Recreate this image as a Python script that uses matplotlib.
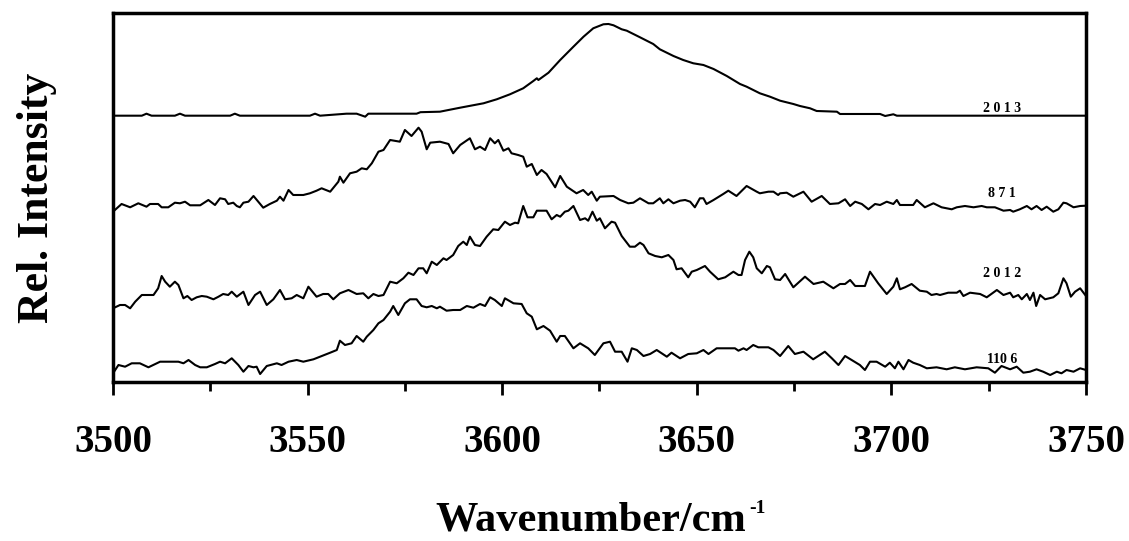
import numpy as np
import matplotlib.pyplot as plt
from matplotlib.ticker import MultipleLocator

plt.rcParams['font.family'] = ['Liberation Serif', 'DejaVu Serif']
plt.rcParams['font.weight'] = 'bold'

# spectra: wavenumber (cm-1) and relative intensity (a.u.)
x_2013 = [3500, 3507.4, 3508.6, 3509.9, 3515.9, 3517.2, 3518.5, 3530.1, 3531.3, 3532.6,
          3550.6, 3551.9, 3553.2, 3560, 3562.6, 3564.8, 3565.6, 3578, 3579, 3584, 3589.2,
          3595.2, 3598.6, 3602, 3605.4, 3608, 3608.9, 3609.3, 3611.9, 3614.9, 3618.3,
          3620.9, 3623.4, 3626, 3627.3, 3628.6, 3630.7, 3632, 3635.4, 3638.8, 3640.5,
          3644, 3646.5, 3649.1, 3651.7, 3654.3, 3657.7, 3661.1, 3662.8, 3666.2, 3668.8,
          3671.4, 3674.8, 3676.5, 3679.1, 3680.8, 3686, 3686.8, 3697.1, 3698.4, 3700.5,
          3701.4, 3750]
y_2013 = [0, 0, 2, 0, 0, 2, 0, 0, 2, 0,
          0, 2, 0, 2, 2, -1, 2, 2, 3.5, 4, 8,
          12.4, 16.4, 21.4, 27.4, 34.7, 37.4, 35.7, 43, 55.7, 69,
          79, 87.4, 91.4, 91.7, 90.4, 86.4, 85, 78.4, 71.7, 66.4,
          59.7, 55.7, 52.4, 50.7, 46.7, 39.7, 31.7, 29, 22.4, 19,
          15, 11.7, 9.7, 7.4, 4.7, 4, 1.7, 1.7, -0.3, 1.4,
          0, 0]

x_871 = [3500, 3502.2, 3504.4, 3506.5, 3508.6, 3509.5, 3511.6, 3512.5, 3514.2, 3515.9,
         3517.2, 3518.5, 3519.8, 3522.4, 3524.5, 3526.2, 3527.5, 3528.8, 3529.6, 3530.9,
         3531.8, 3532.6, 3533.5, 3534.8, 3536.1, 3537.3, 3538.6, 3540.3, 3542.1, 3542.9,
         3543.8, 3545.1, 3546.3, 3548.9, 3550.6, 3552.3, 3553.6, 3555.8, 3557.9, 3558.3,
         3559.2, 3560.9, 3562.6, 3563.9, 3565.2, 3566.5, 3568.2, 3569.5, 3571.2, 3573.7,
         3575.0, 3576.7, 3578.5, 3579.3, 3580.6, 3581.5, 3584.0, 3586.2, 3587.4, 3589.2,
         3591.7, 3593.0, 3594.3, 3595.6, 3596.9, 3598.1, 3599.0, 3600.3, 3601.6, 3602.4,
         3604.1, 3605.4, 3606.3, 3607.6, 3608.9, 3610.1, 3611.4, 3613.6, 3614.9, 3616.6,
         3619.1, 3620.8, 3622.1, 3623.0, 3624.3, 3625.1, 3628.6, 3630.3, 3632.4, 3633.7,
         3635.4, 3637.6, 3638.8, 3640.5, 3641.4, 3642.7, 3644.0, 3645.7, 3647.0, 3648.3,
         3649.5, 3650.8, 3651.7, 3652.5, 3654.3, 3656.8, 3658.1, 3660.2, 3662.8, 3665.4,
         3666.2, 3668.4, 3669.7, 3670.9, 3671.4, 3673.1, 3674.8, 3677.4, 3679.5, 3682.1,
         3684.2, 3686.4, 3688.1, 3689.4, 3690.7, 3692.4, 3694.1, 3695.8, 3697.1, 3698.8,
         3700.5, 3701.4, 3702.2, 3705.6, 3706.5, 3708.6, 3710.8, 3712.9, 3715.5, 3716.8,
         3718.9, 3721.1, 3723.2, 3724.5, 3726.6, 3728.8, 3730.5, 3731.3, 3733.0, 3734.8,
         3736.0, 3737.3, 3738.6, 3739.9, 3741.6, 3742.9, 3744.2, 3745.0, 3746.8, 3748.5,
         3750.0]
y_871 = [-4.7, 3, -0.3, 3.7, 0.3, 3, 3, -0.3, -0.3, 4.3,
         3.7, 5.3, 1.7, 1.7, 7, 2, 8.7, 7.7, 3, 4.3,
         1, -0.3, 4.3, 5.3, 11, 5.3, -0.7, 3, 6.3, 10.3,
         6.3, 17, 12, 12, 13.7, 16.3, 18.7, 15.3, 25.3, 30.3,
         24.3, 33.7, 35.3, 38.7, 37.7, 43.7, 55.3, 57, 67, 65.3,
         77, 71, 79.3, 75.3, 57.7, 64.3, 65.3, 63, 53.7, 62,
         68.7, 57.7, 60.3, 57, 68.7, 63.7, 67, 56.3, 58.7, 53.7,
         52, 50.3, 40.3, 43, 32, 37, 33, 19.7, 31, 20.3,
         13.7, 17, 12, 15.3, 6.3, 10.3, 11, 7, 3.7, 4.3,
         8.7, 3.7, 3.7, 8.7, 3.7, 7.7, 3.7, 6.3, 7, 5.3,
         -0.3, 8.7, 8.7, 3, 7, 13, 16.3, 11, 21, 15.3,
         13.7, 15.3, 15.3, 12, 13.7, 14.3, 10.3, 15.3, 5.3, 11,
         3, 3.7, 7.7, 1, 5.3, 3, -2.3, 3, 2, 5.3,
         3, 7, 2, 2, 7, -0.3, 3.7, -0.3, -2.3, -0.3,
         1, -0.3, 1, -0.3, -0.3, -3.7, -3, -4.7, -2.3, 1,
         -2.3, 1, -3, 0.3, -4.7, -2.3, 4.3, 3.7, -0.3, 1,
         1.3]

x_2012 = [3500, 3501.8, 3503.1, 3504.4, 3505.7, 3507.4, 3508.6, 3510.4, 3511.6, 3512.5,
          3513.4, 3514.6, 3515.9, 3516.8, 3518.1, 3519.1, 3520.2, 3521.5, 3522.8, 3524.1,
          3525.8, 3527.1, 3528.3, 3529.6, 3530.5, 3531.8, 3533.5, 3534.8, 3536.5, 3537.8,
          3539.5, 3541.2, 3542.9, 3544.2, 3545.9, 3547.2, 3548.9, 3550.2, 3552.3, 3554.0,
          3555.3, 3556.6, 3558.3, 3560.5, 3562.6, 3564.3, 3565.6, 3566.9, 3568.2, 3569.5,
          3571.2, 3572.9, 3574.6, 3575.9, 3577.2, 3578.5, 3579.7, 3580.6, 3581.9, 3583.2,
          3584.9, 3585.7, 3587.4, 3588.7, 3590.0, 3590.9, 3591.7, 3593.0, 3594.3, 3596.0,
          3597.7, 3599.0, 3600.7, 3602.0, 3603.3, 3604.1, 3605.4, 3606.5, 3608.0, 3608.9,
          3611.4, 3612.7, 3614.0, 3614.9, 3616.1, 3617.0, 3618.3, 3620.0, 3621.3, 3622.1,
          3623.2, 3624.3, 3625.1, 3626.4, 3628.1, 3629.0, 3630.7, 3632.8, 3634.1, 3635.4,
          3636.3, 3637.6, 3639.3, 3641.0, 3642.7, 3644.0, 3644.8, 3646.1, 3647.8, 3648.7,
          3650.0, 3652.1, 3653.4, 3655.5, 3657.3, 3659.4, 3660.7, 3661.5, 3662.4, 3663.5,
          3664.5, 3665.4, 3666.7, 3668.0, 3668.8, 3670.1, 3671.4, 3672.7, 3674.8, 3677.8,
          3680.0, 3682.5, 3685.1, 3686.8, 3688.1, 3689.4, 3690.7, 3693.2, 3694.5, 3696.6,
          3698.8, 3700.5, 3701.4, 3702.2, 3703.5, 3705.2, 3707.3, 3709.1, 3710.3, 3711.6,
          3712.5, 3714.6, 3716.8, 3717.6, 3718.5, 3720.2, 3722.8, 3724.5, 3727.1, 3728.8,
          3730.5, 3731.3, 3732.6, 3733.5, 3734.8, 3735.6, 3736.5, 3737.2, 3738.2, 3739.5,
          3741.6, 3742.9, 3744.2, 3745.0, 3746.1, 3747.2, 3748.5, 3750.0]
y_2012 = [-11.3, -8, -8, -11.3, -4.7, 2, 2, 2, 8.7, 21,
          15.3, 10.3, 15.3, 12, -1.3, 1, -3, -0.3, 1, 0.3,
          -2.3, 0.3, 3, 2, 5.3, 0.3, 5.3, -8, 2, 5.3,
          -8, -2.3, 7, -2.3, -1.3, 2, -1.3, 10.3, 0.3, 3,
          3, -2.3, 3.7, 7, 3, 3.7, -1.3, 3, 1, 2,
          15.3, 13.7, 18.7, 24.3, 22, 28.7, 28.7, 23.7, 35.3, 32,
          38.7, 37, 42, 51, 55.3, 52, 60.3, 52, 51, 60.3,
          67.7, 67, 75.3, 72, 74.3, 73.7, 91, 79.7, 79.7, 86.3,
          86.3, 77.7, 82, 80.3, 85.3, 86.3, 91, 77, 78.7, 76.3,
          85.3, 76.3, 78.7, 68.7, 75.3, 74.3, 61, 50.3, 50.3, 54.3,
          52, 43.7, 41, 39.7, 42, 37, 27.7, 28.7, 19.7, 25.3,
          27, 31, 25.3, 17.7, 19.7, 25.3, 22, 22, 37, 45.3,
          39.7, 28.7, 23.7, 31, 29.7, 17.7, 17, 23, 9.7, 20.3,
          13, 15.3, 8.7, 13, 13, 17, 11, 11, 25.3, 13.7,
          3, 10.3, 18.7, 7.7, 9.7, 13, 6.3, 5.3, 2, 3,
          2, 4.3, 4.3, 6.3, 1, 4.3, 3, -0.3, 7, 2,
          4.3, -0.3, 2, -2.3, 3, -3, 4.3, -9, 2, -2.3,
          -0.3, 3.7, 18.7, 13.7, 0.3, 5.3, 8.7, 1]

x_1106 = [3500, 3501.4, 3503.1, 3504.8, 3506.9, 3509.1, 3512.1, 3516.8, 3518.1, 3519.4,
          3521.1, 3522.4, 3524.1, 3526.2, 3527.5, 3528.8, 3530.5, 3532.2, 3533.5, 3534.8,
          3536.1, 3536.9, 3537.8, 3539.5, 3542.1, 3543.3, 3545.1, 3547.2, 3548.9, 3551.5,
          3553.2, 3555.8, 3557.5, 3558.3, 3559.6, 3561.3, 3562.6, 3564.3, 3565.2, 3566.9,
          3568.2, 3569.5, 3571.2, 3572.0, 3573.3, 3575.0, 3576.3, 3578.0, 3579.3, 3580.6,
          3581.9, 3583.2, 3584.0, 3585.7, 3587.4, 3589.2, 3590.9, 3592.6, 3594.3, 3595.6,
          3596.9, 3598.1, 3599.9, 3600.7, 3602.9, 3605.0, 3606.3, 3607.6, 3608.9, 3610.6,
          3612.3, 3614.0, 3614.9, 3616.1, 3618.3, 3620.0, 3622.1, 3623.8, 3626.0, 3627.7,
          3629.0, 3630.7, 3632.2, 3633.3, 3634.6, 3636.3, 3638.0, 3639.7, 3641.0, 3642.3,
          3643.5, 3645.7, 3647.8, 3650.0, 3651.7, 3653.0, 3655.1, 3659.8, 3660.7, 3662.0,
          3662.8, 3664.5, 3665.8, 3668.4, 3669.7, 3671.4, 3673.5, 3675.2, 3677.4, 3679.9,
          3682.9, 3684.7, 3686.4, 3688.1, 3689.8, 3691.9, 3693.2, 3694.5, 3696.2, 3698.4,
          3699.6, 3700.9, 3701.8, 3703.1, 3704.4, 3705.6, 3707.3, 3709.1, 3711.6, 3714.2,
          3716.3, 3718.9, 3721.9, 3724.9, 3726.6, 3728.3, 3730.5, 3732.2, 3733.9, 3735.6,
          3737.3, 3739.0, 3740.8, 3742.5, 3743.7, 3745.0, 3746.8, 3748.5, 3750.0]
y_1106 = [-3.3, 5, 3.3, 6.7, 6.7, 2.7, 8.3, 8.3, 6.7, 10,
          5, 2.7, 2.7, 6, 8.3, 6.7, 11.7, 5, -1.7, 4,
          2.7, 3.3, -4, 4, 6.7, 5, 8.3, 10, 8.3, 10.7,
          13.3, 17.3, 20, 29.3, 25, 26.7, 34, 28.3, 33.3, 40,
          46.7, 50, 58.3, 64, 55, 66.7, 70.7, 70.7, 64, 62.7,
          64, 61.7, 63.3, 59.3, 60, 60, 64, 62.3, 66, 64,
          72.7, 70, 64, 71.7, 66.7, 66, 56.7, 53.3, 40.7, 44,
          39.3, 28.3, 34, 34, 21.7, 26.7, 21.7, 15, 26.7, 28.3,
          18.3, 18.3, 8.3, 21.7, 20, 14, 16, 20, 16.7, 13.3,
          17.3, 11.7, 16, 16.7, 20, 16, 21.7, 21.7, 19.3, 21.7,
          20, 25, 22.7, 22.7, 20, 14, 24, 16, 18.3, 10.7,
          18.3, 11.7, 5, 14, 10, 5, 0, 8.3, 8.3, 3.3,
          7.3, 1.7, 8.3, 0.7, 10, 7.3, 5, 1.7, 2.7, 0.7,
          2.7, 0.7, 2.7, 1.7, -2.7, 4, 0.7, 3.3, -2.7, -1.7,
          0.7, -1.7, -5, -1.7, -3.3, 0, -1.7, 1.7, 0]

names = ['2 0 1 3', '8 7 1', '2 0 1 2', '110 6']
spectra = [(x_2013, y_2013), (x_871, y_871), (x_2012, y_2012), (x_1106, y_1106)]
offsets = [266.3, 175, 85, 12]       # vertical stacking of the traces
label_dy = [4, 10, 20, 7]

fig = plt.figure(figsize=(11.29, 5.41), dpi=100)
ax = fig.add_axes([0.1001, 0.2939, 0.8618, 0.6821])

for (xs, ys), off, name, dy in zip(spectra, offsets, names, label_dy):
    ax.plot(xs, np.array(ys) + off, color='black', lw=1.5)
    ax.text(3728.5, off + dy, name, fontsize=10, fontweight='bold',
            ha='center', va='baseline')

ax.set_xlim(3500, 3750)
ax.set_ylim(0, 369)
ax.xaxis.set_major_locator(MultipleLocator(50))
ax.xaxis.set_minor_locator(MultipleLocator(25))
ax.tick_params(axis='x', which='major', direction='out', length=9.5, width=2,
               labelsize=28, pad=21)
ax.tick_params(axis='x', which='minor', direction='out', length=6.5, width=2)
ax.set_yticks([])
for sp in ax.spines.values():
    sp.set_linewidth(2.5)

ax.set_xlabel('Wavenumber/cm', fontsize=30.5, fontweight='bold', labelpad=29)
ax.xaxis.label.set_x(0.4915)
# superscript of cm-1
ax.annotate('-1', xy=(1, 1), xycoords=ax.xaxis.label, xytext=(2, 1.5),
            textcoords='offset points', ha='left', va='top',
            fontsize=14, fontweight='bold')
ax.set_ylabel('Rel. Intensity', fontsize=31.5, fontweight='bold', labelpad=40)

fig.savefig('out.png', dpi=100)
